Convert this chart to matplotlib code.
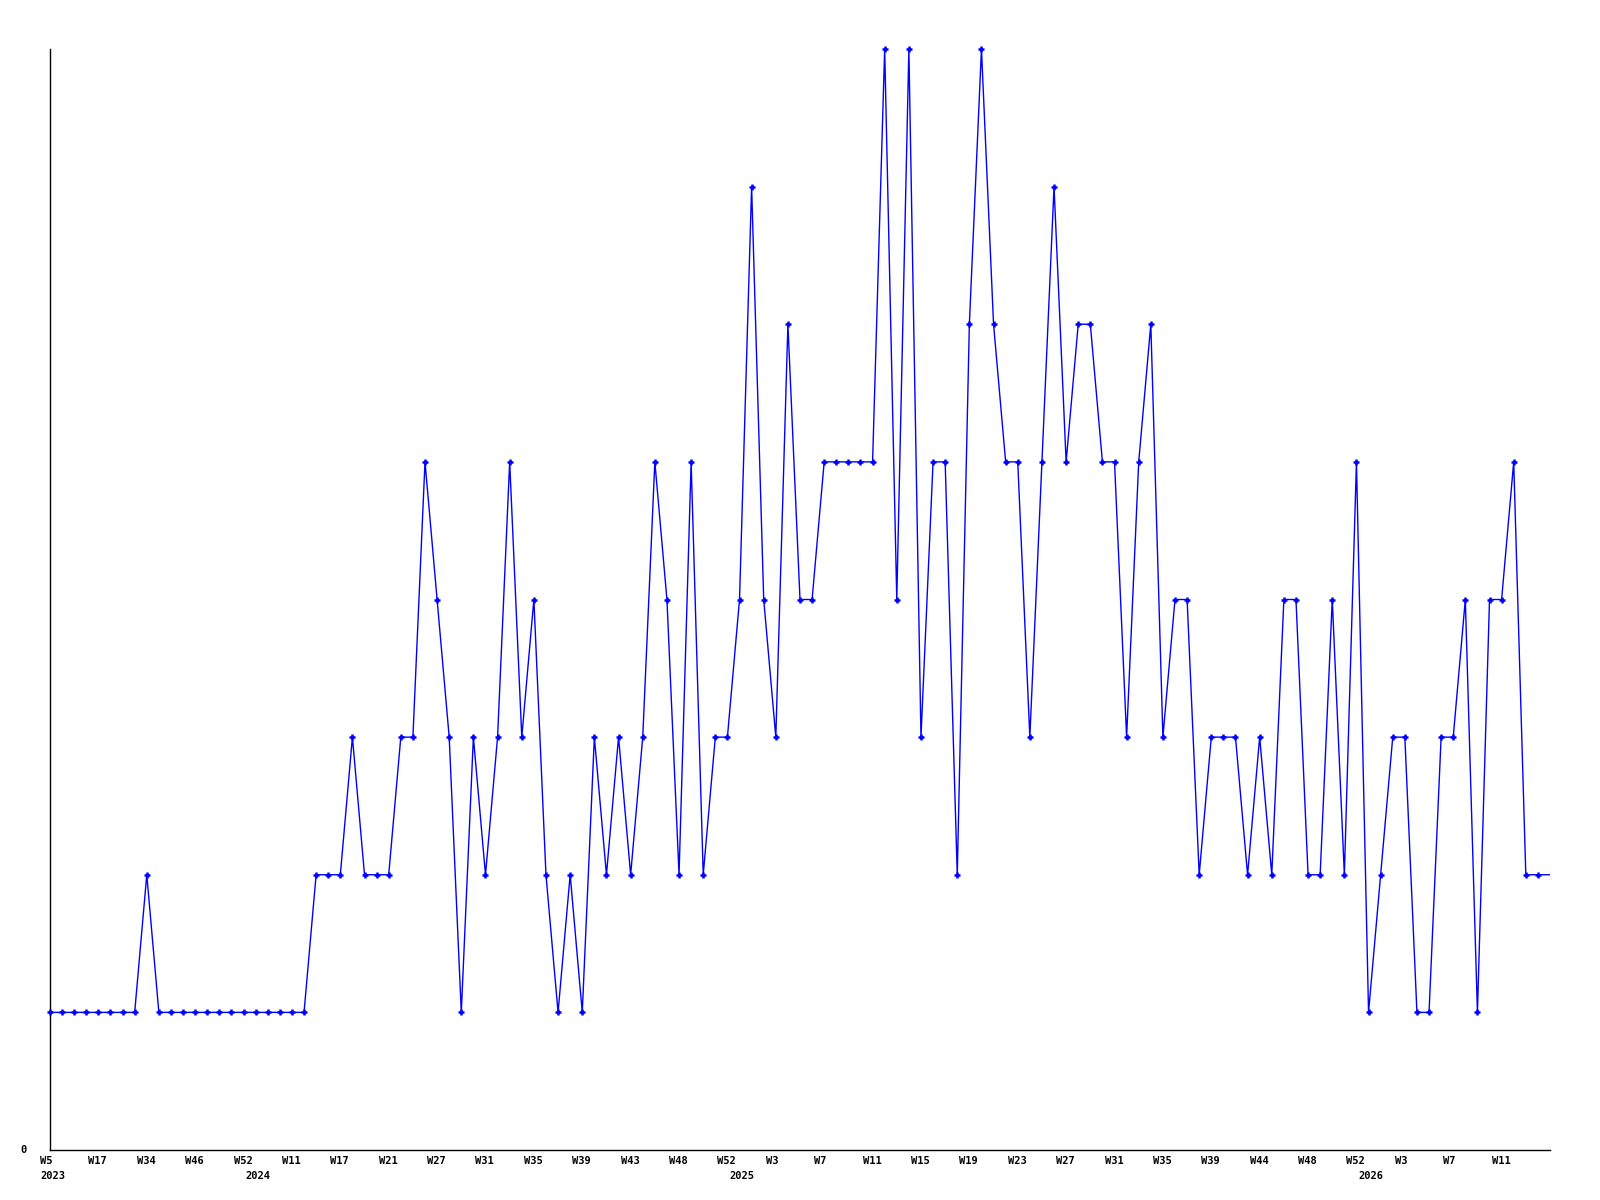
import matplotlib
matplotlib.use("Agg")
import matplotlib.pyplot as plt
import matplotlib.transforms as mtransforms

values = [1, 1, 1, 1, 1, 1, 1, 1, 2, 1,
          1, 1, 1, 1, 1, 1, 1, 1, 1, 1,
          1, 1, 2, 2, 2, 3, 2, 2, 2, 3,
          3, 5, 4, 3, 1, 3, 2, 3, 5, 3,
          4, 2, 1, 2, 1, 3, 2, 3, 2, 3,
          5, 4, 2, 5, 2, 3, 3, 4, 7, 4,
          3, 6, 4, 4, 5, 5, 5, 5, 5, 8,
          4, 8, 3, 5, 5, 2, 6, 8, 6, 5,
          5, 3, 5, 7, 5, 6, 6, 5, 5, 3,
          5, 6, 3, 4, 4, 2, 3, 3, 3, 2,
          3, 2, 4, 4, 2, 2, 4, 2, 5, 1,
          2, 3, 3, 1, 1, 3, 3, 4, 1, 4,
          4, 5, 2, 2, 2]

week_labels = ["W5", "W17", "W34", "W46", "W52", "W11", "W17", "W21", "W27", "W31",
               "W35", "W39", "W43", "W48", "W52", "W3", "W7", "W11", "W15", "W19",
               "W23", "W27", "W31", "W35", "W39", "W44", "W48", "W52", "W3", "W7", "W11"]
label_step = 4
year_labels = ["2023", "2024", "2025", "2026"]
year_starts = [0, 17, 57, 109]

fig = plt.figure(figsize=(16, 12), dpi=100)
ax = fig.add_axes([50/1600, 50/1200, 1500/1600, 1101/1200])

n = len(values)
xs = list(range(n))
color = "#0000ff"
ax.plot(xs, values, color=color, linewidth=1.0, zorder=2)
ax.plot(xs[:-1], values[:-1], linestyle="none", marker="+", markersize=5,
        markeredgewidth=1.8, color=color, zorder=3, clip_on=False)

ax.set_xlim(0, n - 1)
ax.set_ylim(0, max(values))
for s in ["top", "right"]:
    ax.spines[s].set_visible(False)
for s in ["left", "bottom"]:
    ax.spines[s].set_color("black")
    ax.spines[s].set_linewidth(1.0)

ax.set_xticks([])
ax.set_yticks([])

font = dict(family="DejaVu Sans Mono", fontsize=7.5, fontweight="bold", color="black")
wk_tr = ax.get_xaxis_transform() + mtransforms.ScaledTranslation(-10/100, -6/100, fig.dpi_scale_trans)
for k, lab in enumerate(week_labels):
    ax.text(k * label_step, 0, lab, transform=wk_tr, ha="left", va="top", **font)
yr_tr = ax.get_xaxis_transform() + mtransforms.ScaledTranslation(-10/100, -21/100, fig.dpi_scale_trans)
for yl, ys in zip(year_labels, year_starts):
    ax.text(ys, 0, yl, transform=yr_tr, ha="left", va="top", **font)

ax.text(0, 0, "0", transform=ax.get_yaxis_transform() + mtransforms.ScaledTranslation(-30/100, 0, fig.dpi_scale_trans),
        ha="left", va="center", **font)

fig.savefig("out.png", dpi=100, facecolor="white")
